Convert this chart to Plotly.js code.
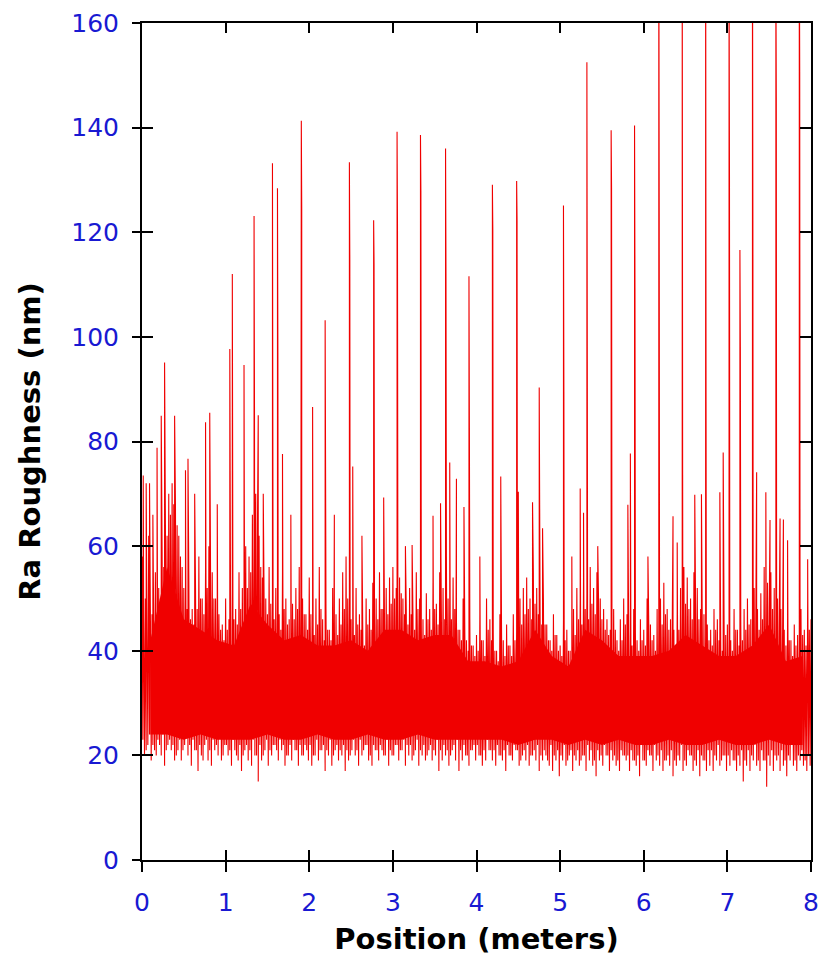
<!DOCTYPE html>
<html>
<head>
<meta charset="utf-8">
<script src="https://cdn.plot.ly/plotly-3.0.1.min.js"></script>
<style>html,body{margin:0;padding:0;background:#fff;}#chart{width:821px;height:959px;}</style>
</head>
<body>
<div id="chart"></div>
<script>
// ---- data (Position in m, Ra roughness in nm) ----
// upper excursions of the dense trace, at 0.04*k m
const raHigh = [
  58, 50, 62, 47, 55,  52, 60, 64, 70, 72,  68, 62, 56, 50, 54,  48, 52, 58, 50, 56,
  60, 55, 50, 47, 45,  50, 46, 52, 48, 55,  52, 60, 58, 66, 70,  62, 54, 50, 56, 48,
  52, 47, 55, 50, 46,  49, 52, 56, 50, 47,  54, 45, 50, 56, 46,  48, 44, 52, 47, 50,
  55, 58, 50, 46, 52,  47, 44, 50, 48, 53,  50, 55, 48, 52, 54,  56, 52, 54, 50, 48,
  52, 47, 55, 50, 46,  51, 48, 54, 49, 55,  52, 58, 50, 54, 47,  44, 50, 42, 46, 41,
  43, 47, 42, 50, 46,  44, 40, 47, 42, 45,  41, 47, 44, 50, 52,  54, 50, 55, 52, 48,
  50, 45, 42, 47, 43,  41, 46, 44, 40, 48,  52, 50, 54, 51, 56,  52, 55, 50, 48, 46,
  44, 48, 42, 46, 50,  47, 44, 48, 42, 46,  44, 50, 45, 43, 48,  50, 53, 48, 46, 44,
  48, 52, 56, 54, 50,  55, 52, 48, 47, 45,  44, 48, 46, 43, 47,  45, 42, 48, 44, 46,
  48, 50, 46, 52, 48,  51, 56, 53, 55, 52,  50, 48, 44, 46, 42,  45, 43, 48, 44, 50,
  46
];
// secondary lower excursions, at 0.04*k + 0.01 m
const raLowB = [
  23, 21, 24, 22, 20,  22, 24, 21, 23, 22,  20, 23, 21, 24, 22,  23, 21, 22, 19, 23,
  21, 23, 22, 24, 20,  22, 21, 23, 20, 22,  20, 22, 21, 23, 20,  22, 20, 23, 21, 22,
  21, 23, 22, 20, 22,  23, 21, 22, 20, 21,  22, 20, 23, 21, 22,  21, 23, 20, 22, 21,
  22, 21, 20, 23, 21,  23, 21, 22, 20, 22,  21, 22, 20, 23, 21,  20, 22, 21, 23, 22,
  22, 20, 23, 21, 22,  20, 22, 21, 23, 21,  22, 21, 20, 22, 23,  21, 22, 20, 21, 22,
  22, 20, 21, 23, 21,  21, 22, 20, 21, 22,  20, 22, 21, 19, 21,  22, 20, 21, 22, 20,
  21, 19, 22, 20, 21,  20, 22, 19, 21, 20,  21, 19, 20, 22, 21,  19, 21, 20, 22, 20,
  21, 20, 19, 21, 20,  20, 21, 19, 20, 22,  19, 21, 20, 22, 20,  21, 19, 20, 21, 19,
  20, 22, 19, 21, 20,  19, 21, 20, 19, 21,  21, 20, 22, 19, 20,  20, 21, 19, 20, 21,
  19, 21, 20, 22, 19,  21, 19, 20, 21, 20,  20, 21, 19, 20, 22,  19, 20, 21, 19, 20
];
// secondary upper excursions, at 0.04*k + 0.02 m
const raHighB = [
  46, 43, 48, 45, 47,  50, 56, 62, 66, 68,  64, 58, 52, 48, 46,  45, 48, 50, 47, 52,
  54, 50, 47, 44, 42,  44, 42, 46, 45, 48,  47, 52, 55, 60, 62,  56, 50, 47, 49, 46,
  47, 44, 48, 45, 43,  46, 48, 50, 47, 44,  47, 43, 45, 48, 42,  44, 42, 46, 43, 45,
  48, 50, 46, 43, 45,  44, 41, 45, 44, 47,  46, 48, 45, 47, 49,  50, 48, 51, 47, 45,
  47, 44, 48, 45, 43,  46, 44, 48, 45, 47,  46, 50, 46, 48, 44,  42, 44, 40, 41, 39,
  40, 42, 39, 44, 42,  40, 38, 42, 39, 41,  39, 42, 41, 45, 47,  48, 46, 49, 47, 45,
  45, 42, 40, 43, 40,  39, 42, 40, 38, 43,  46, 45, 48, 46, 49,  47, 49, 46, 44, 43,
  41, 44, 40, 42, 45,  43, 41, 44, 40, 42,  41, 45, 42, 40, 44,  45, 47, 44, 43, 41,
  44, 47, 49, 48, 46,  48, 46, 44, 43, 42,  41, 44, 42, 40, 43,  42, 40, 44, 41, 42,
  44, 45, 42, 46, 44,  46, 49, 47, 48, 46,  45, 43, 41, 42, 39,  41, 40, 43, 41, 44
];
// lower excursions, at 0.04*k + 0.03 m
const raLow = [
  20, 22, 19, 21, 23,  20, 18, 22, 21, 19,  21, 19, 22, 20, 18,  21, 17, 20, 22, 19,
  18, 21, 20, 19, 22,  20, 18, 21, 19, 17,  21, 19, 18, 20, 15,  19, 21, 18, 20, 22,
  19, 21, 18, 20, 19,  21, 18, 20, 22, 19,  18, 20, 19, 21, 17,  20, 18, 21, 19, 20,
  17, 19, 21, 20, 18,  20, 22, 19, 18, 21,  19, 21, 20, 18, 20,  22, 19, 21, 18, 20,
  19, 21, 18, 20, 19,  21, 19, 20, 17, 19,  20, 18, 21, 19, 17,  19, 20, 18, 21, 19,
  20, 18, 19, 21, 19,  18, 20, 19, 17, 20,  19, 21, 18, 20, 19,  18, 20, 19, 17, 19,
  20, 18, 17, 19, 16,  19, 18, 20, 17, 19,  18, 20, 17, 19, 18,  16, 19, 18, 20, 17,
  19, 18, 17, 20, 19,  17, 19, 18, 16, 19,  18, 20, 17, 19, 18,  17, 19, 18, 16, 18,
  19, 17, 18, 20, 17,  18, 16, 19, 17, 18,  17, 19, 18, 20, 17,  18, 19, 17, 18, 15,
  18, 17, 19, 18, 17,  19, 14, 18, 17, 19,  17, 18, 16, 19, 18,  17, 19, 18, 17, 18
];
// solid core of the band, at 0.1 + 0.2*j m
const coreTop = [
  42, 56, 46, 44, 42, 41, 49, 45, 42, 43,  41, 41, 42, 40, 44, 44, 42, 43, 43, 38,
  38, 37, 38, 44, 39, 37, 44, 42, 39, 39,  39, 40, 43, 41, 39, 39, 41, 45, 38, 39
];
const coreBottom = [
  24, 24, 23, 24, 23, 23, 23, 24, 23, 23,  24, 23, 23, 24, 23, 23, 24, 23, 23, 23,
  23, 23, 22, 23, 23, 22, 23, 22, 23, 22,  22, 23, 22, 22, 23, 22, 22, 23, 22, 22
];
// isolated peaks (position m, height nm)
const peakPos = [
  0.015, 0.05, 0.09, 0.13, 0.18, 0.23, 0.27, 0.39, 0.52, 0.55, 0.63, 0.76, 0.81, 0.90,
  1.05, 1.08, 1.22, 1.34, 1.345, 1.39, 1.45, 1.56, 1.62, 1.625, 1.68, 1.78, 1.905, 1.91,
  2.04, 2.19, 2.30, 2.48, 2.485, 2.52, 2.63, 2.77, 2.775, 2.89, 3.05, 3.055, 3.15, 3.23,
  3.33, 3.335, 3.48, 3.57, 3.63, 3.635, 3.68, 3.76, 3.85, 3.91, 3.915, 4.04, 4.19, 4.195,
  4.29, 4.48, 4.485, 4.50, 4.67, 4.75, 4.79, 5.04, 5.045, 5.14, 5.24, 5.28, 5.32, 5.325,
  5.45, 5.61, 5.615, 5.81, 5.84, 5.89, 5.895, 6.05, 6.18, 6.185, 6.35, 6.40, 6.46, 6.465,
  6.61, 6.69, 6.74, 6.745, 6.91, 6.95, 7.02, 7.025, 7.15, 7.155, 7.30, 7.305, 7.35, 7.46,
  7.51, 7.58, 7.585, 7.63, 7.67, 7.72, 7.86, 7.865, 7.96
];
const peakVal = [
  73.5, 72, 72, 66, 78.8, 84.9, 95.1, 84.9, 74.5, 76.7, 70, 83.7, 85.5, 68,
  97.7, 112, 94.6, 123.1, 86.6, 85, 70, 133.2, 128.4, 96.9, 77.6, 66, 141.3, 124.6,
  86.6, 103.2, 66, 133.4, 114.7, 75.2, 62, 122.3, 113.9, 69.3, 139.2, 121.7, 60, 60.2,
  138.6, 127.9, 65.8, 68.2, 136, 112, 76, 72.9, 67.5, 111.6, 82.6, 58, 129.1, 120.4,
  73.3, 129.8, 122.2, 70.4, 68.4, 90.3, 63.4, 125.1, 89.5, 58, 71, 66.4, 152.5, 95.3,
  60, 139.5, 128.5, 67.9, 77.7, 140.4, 109.3, 58, 185, 122.5, 65.7, 60.7, 180, 73.6,
  69.8, 69.9, 190, 87.6, 70.3, 77.9, 175, 129.8, 116.6, 98.1, 182, 122.3, 74.1, 70.3,
  65, 170, 145.8, 65.3, 65.1, 61.1, 180, 150.7, 57.5
];
const sampleStep = 0.04;
const coreStep = 0.2;

// ---- build the series ----
const pts = [];
for (let k = 0; k < raHigh.length; k++) {
  pts.push([k * sampleStep, raHigh[k]]);
  if (k < raLow.length) {
    pts.push([k * sampleStep + 0.01, raLowB[k]]);
    pts.push([k * sampleStep + 0.02, raHighB[k]]);
    pts.push([k * sampleStep + 0.03, raLow[k]]);
  }
}
for (let i = 0; i < peakPos.length; i++) pts.push([peakPos[i], peakVal[i]]);
pts.sort((a, b) => a[0] - b[0]);
const sx = pts.map(p => p[0]), sy = pts.map(p => p[1]);
const coreX = coreTop.map((_, j) => coreStep / 2 + j * coreStep);

const RED = 'rgb(240,0,0)';
const BLUE = 'rgb(25,25,210)';
const traces = [
  {x: coreX, y: coreBottom, type: 'scatter', mode: 'lines', line: {width: 0, color: RED}, hoverinfo: 'skip', showlegend: false},
  {x: coreX, y: coreTop, type: 'scatter', mode: 'lines', fill: 'tonexty', fillcolor: RED, line: {width: 0, color: RED}, hoverinfo: 'skip', showlegend: false},
  {x: sx, y: sy, type: 'scatter', mode: 'lines', line: {width: 1.1, color: RED, simplify: false}, showlegend: false},
  {x: [], y: [], xaxis: 'x2', yaxis: 'y2', type: 'scatter', mode: 'lines', showlegend: false}
];

const tickFont = {family: 'DejaVu Sans, Arial, sans-serif', size: 25, color: BLUE};
const titleFont = {family: 'DejaVu Sans, Arial, sans-serif', size: 29, color: '#000'};
const common = {showgrid: false, zeroline: false, showline: true, linecolor: '#000', linewidth: 2, tickcolor: '#000', tickwidth: 2};

const layout = {
  width: 821, height: 959,
  margin: {l: 142, r: 10, t: 23, b: 99},
  paper_bgcolor: '#fff', plot_bgcolor: '#fff',
  showlegend: false,
  xaxis: Object.assign({}, common, {
    range: [0, 8], tick0: 0, dtick: 1, ticks: 'outside', ticklen: 10, mirror: true,
    tickfont: tickFont, ticklabelstandoff: 9,
    title: {text: '<b>Position (meters)</b>', font: titleFont, standoff: 13}
  }),
  yaxis: Object.assign({}, common, {
    range: [0, 160], tick0: 0, dtick: 20, ticks: 'outside', ticklen: 8, mirror: true,
    tickfont: tickFont, ticklabelstandoff: 8,
    title: {text: '<b>Ra Roughness (nm)</b>', font: titleFont, standoff: 22}
  }),
  xaxis2: Object.assign({}, common, {
    overlaying: 'x', anchor: 'y2', side: 'bottom', range: [0, 8], tick0: 0, dtick: 1,
    ticks: 'inside', ticklen: 10, mirror: 'ticks', showticklabels: false
  }),
  yaxis2: Object.assign({}, common, {
    overlaying: 'y', anchor: 'x2', side: 'left', range: [0, 160], tick0: 0, dtick: 20,
    ticks: 'inside', ticklen: 11, mirror: 'ticks', showticklabels: false
  })
};

Plotly.newPlot('chart', traces, layout, {staticPlot: true, displayModeBar: false});
</script>
</body>
</html>
